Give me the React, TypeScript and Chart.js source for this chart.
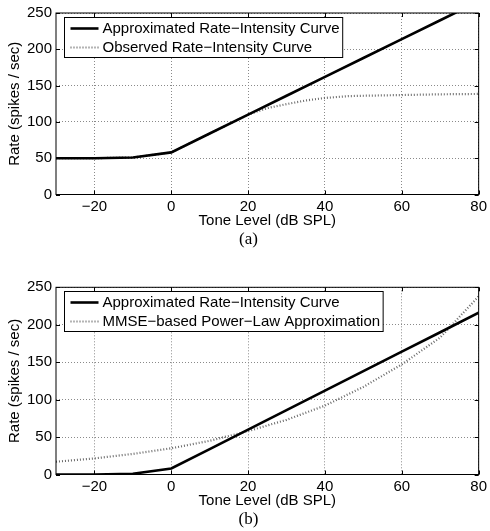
import { useEffect, useRef } from 'react';
import { Chart, registerables } from 'chart.js';

Chart.register(...registerables);

const FONT = '"Liberation Sans", Arial, Helvetica, sans-serif';
const SERIF = '"Liberation Serif", "Times New Roman", serif';

// Shared axis ticks
const xTickValues = [-20, 0, 20, 40, 60, 80];
const yTickValues = [0, 50, 100, 150, 200, 250];

// Panel (a)
const levelsA = [-30, -20, -10, 0, 10, 20, 30, 40, 50, 60, 70, 80];
const approxRateA = [50, 50, 51, 58, 84, 110, 136, 162, 188, 214, 240, 266];
const observedLevelsA = [-30, -20, -10, 0, 10, 20, 25, 30, 35, 40, 46, 50, 60, 70, 80];
const observedRateA = [50, 50, 51, 58, 84, 110, 119, 124.5, 129.5, 133, 135.5, 136, 137, 138, 138.5];

// Panel (b)
const levelsB = [-30, -20, -10, 0, 10, 20, 30, 40, 50, 60, 70, 80];
const approxRateB = [0, 0, 1, 8, 34, 60, 86, 112, 138, 164, 190, 216];
const powerLawRateB = [17, 21.5, 27.5, 35, 45, 58, 73, 92, 117, 147, 183, 238];

const legendA = ['Approximated Rate\u2212Intensity Curve', 'Observed Rate\u2212Intensity Curve'];
const legendB = ['Approximated Rate\u2212Intensity Curve', 'MMSE\u2212based Power\u2212Law Approximation'];

const DOT_COLOR = '#6a6a6a';
const FS = 15;

type Panel = {
  height: number;
  areaTop: number;
  areaBottom: number;
  label: string;
  legend: string[];
  solid: { x: number; y: number }[];
  dotted: { x: number; y: number }[];
};

const zip = (xs: number[], ys: number[]) => xs.map((x, i) => ({ x, y: ys[i] }));

const panels: Panel[] = [
  {
    height: 265,
    areaTop: 8.3,
    areaBottom: 194.5,
    label: '(a)',
    legend: legendA,
    solid: zip(levelsA, approxRateA),
    dotted: zip(observedLevelsA, observedRateA),
  },
  {
    height: 266,
    areaTop: 22.3,
    areaBottom: 209.5,
    label: '(b)',
    legend: legendB,
    solid: zip(levelsB, approxRateB),
    dotted: zip(levelsB, powerLawRateB),
  },
];

const fmt = (v: number) => (v < 0 ? '\u2212' + Math.abs(v) : String(v));

function makeDecor(panel: Panel) {
  return {
    id: 'decor',
    afterDatasetsDraw(chart: any) {
      const { ctx, chartArea: a, scales } = chart;
      const xs = scales.x;
      const ys = scales.y;
      ctx.save();
      // inward ticks
      ctx.strokeStyle = '#000';
      ctx.lineWidth = 1;
      ctx.setLineDash([]);
      const tl = 4;
      ctx.beginPath();
      xTickValues.forEach((v) => {
        const px = Math.round(xs.getPixelForValue(v)) + 0.5;
        ctx.moveTo(px, a.bottom);
        ctx.lineTo(px, a.bottom - tl);
        ctx.moveTo(px, a.top);
        ctx.lineTo(px, a.top + tl);
      });
      yTickValues.forEach((v) => {
        const py = Math.round(ys.getPixelForValue(v)) + 0.5;
        ctx.moveTo(a.left, py);
        ctx.lineTo(a.left + tl, py);
        ctx.moveTo(a.right, py);
        ctx.lineTo(a.right - tl, py);
      });
      ctx.stroke();
      // frame
      ctx.strokeRect(a.left, a.top, a.right - a.left, a.bottom - a.top);

      // legend
      ctx.font = `${FS}px ${FONT}`;
      const tw = Math.max(...panel.legend.map((t) => ctx.measureText(t).width));
      const bx = Math.round(a.left + 8) + 0.5;
      const by = Math.round(a.top + 4) + 0.5;
      const textX = bx + 38;
      const bw = textX - bx + tw + 3;
      const bh = 40;
      ctx.fillStyle = '#fff';
      ctx.fillRect(bx, by, bw, bh);
      ctx.strokeRect(bx, by, bw, bh);
      const rows = [by + 11, by + 30];
      // solid sample
      ctx.lineWidth = 2.6;
      ctx.strokeStyle = '#000';
      ctx.beginPath();
      ctx.moveTo(bx + 6, rows[0]);
      ctx.lineTo(bx + 34, rows[0]);
      ctx.stroke();
      // dotted sample
      ctx.lineWidth = 2.2;
      ctx.strokeStyle = DOT_COLOR;
      ctx.setLineDash([1, 2]);
      ctx.beginPath();
      ctx.moveTo(bx + 6, rows[1]);
      ctx.lineTo(bx + 34, rows[1]);
      ctx.stroke();
      ctx.setLineDash([]);
      ctx.fillStyle = '#000';
      ctx.textBaseline = 'middle';
      ctx.textAlign = 'left';
      panel.legend.forEach((t, i) => ctx.fillText(t, textX, rows[i] + 0.5));
      ctx.restore();
    },
    afterDraw(chart: any) {
      const { ctx, chartArea: a } = chart;
      ctx.save();
      ctx.fillStyle = '#000';
      ctx.font = `${FS}px ${FONT}`;
      ctx.textAlign = 'center';
      ctx.textBaseline = 'middle';
      ctx.fillText('Tone Level (dB SPL)', (a.left + a.right) / 2, a.bottom + 26.5);
      ctx.save();
      ctx.translate(15, (a.top + a.bottom) / 2);
      ctx.rotate(-Math.PI / 2);
      ctx.fillText('Rate (spikes / sec)', 0, 0);
      ctx.restore();
      ctx.font = `17px ${SERIF}`;
      ctx.fillText(panel.label, 248.5, a.bottom + 45.5);
      ctx.restore();
    },
  };
}

function PanelChart({ panel }: { panel: Panel }) {
  const ref = useRef<HTMLCanvasElement | null>(null);
  useEffect(() => {
    if (!ref.current) return;
    const chart = new Chart(ref.current, {
      type: 'line',
      data: {
        datasets: [
          {
            data: panel.solid,
            borderColor: '#000',
            borderWidth: 2.6,
            pointRadius: 0,
            tension: 0,
            fill: false,
          },
          {
            data: panel.dotted,
            borderColor: DOT_COLOR,
            borderWidth: 2.2,
            borderDash: [1, 2],
            pointRadius: 0,
            tension: 0,
            fill: false,
          },
        ],
      },
      options: {
        animation: false,
        responsive: false,
        maintainAspectRatio: false,
        layout: { padding: { left: 0, right: 8, top: panel.areaTop, bottom: 0 } },
        plugins: { legend: { display: false }, tooltip: { enabled: false }, title: { display: false } },
        scales: {
          x: {
            type: 'linear',
            min: -30,
            max: 80,
            afterBuildTicks: (s: any) => {
              s.ticks = xTickValues.map((v) => ({ value: v }));
            },
            afterFit: (s: any) => {
              s.height = panel.height - panel.areaBottom;
            },
            ticks: {
              color: '#000',
              font: { family: FONT, size: FS },
              padding: 3,
              maxRotation: 0,
              autoSkip: false,
              callback: (v: any) => fmt(Number(v)),
            },
            grid: { color: '#8a8a8a', lineWidth: 1, drawTicks: false },
            border: { display: false, dash: [1, 2] },
          },
          y: {
            type: 'linear',
            min: 0,
            max: 250,
            afterBuildTicks: (s: any) => {
              s.ticks = yTickValues.map((v) => ({ value: v }));
            },
            afterFit: (s: any) => {
              s.width = 56;
            },
            ticks: {
              color: '#000',
              font: { family: FONT, size: FS },
              padding: 4,
              autoSkip: false,
              callback: (v: any) => fmt(Number(v)),
            },
            grid: { color: '#8a8a8a', lineWidth: 1, drawTicks: false },
            border: { display: false, dash: [1, 2] },
          },
        },
      },
      plugins: [makeDecor(panel)],
    } as any);
    return () => chart.destroy();
  }, [panel]);
  return (
    <canvas
      ref={ref}
      width={490}
      height={panel.height}
      style={{ display: 'block', width: 490, height: panel.height }}
    />
  );
}

export default function App() {
  return (
    <div style={{ position: 'absolute', left: 0, top: 0, width: 490, height: 531, background: '#fff' }}>
      {panels.map((p, i) => (
        <PanelChart key={i} panel={p} />
      ))}
    </div>
  );
}
